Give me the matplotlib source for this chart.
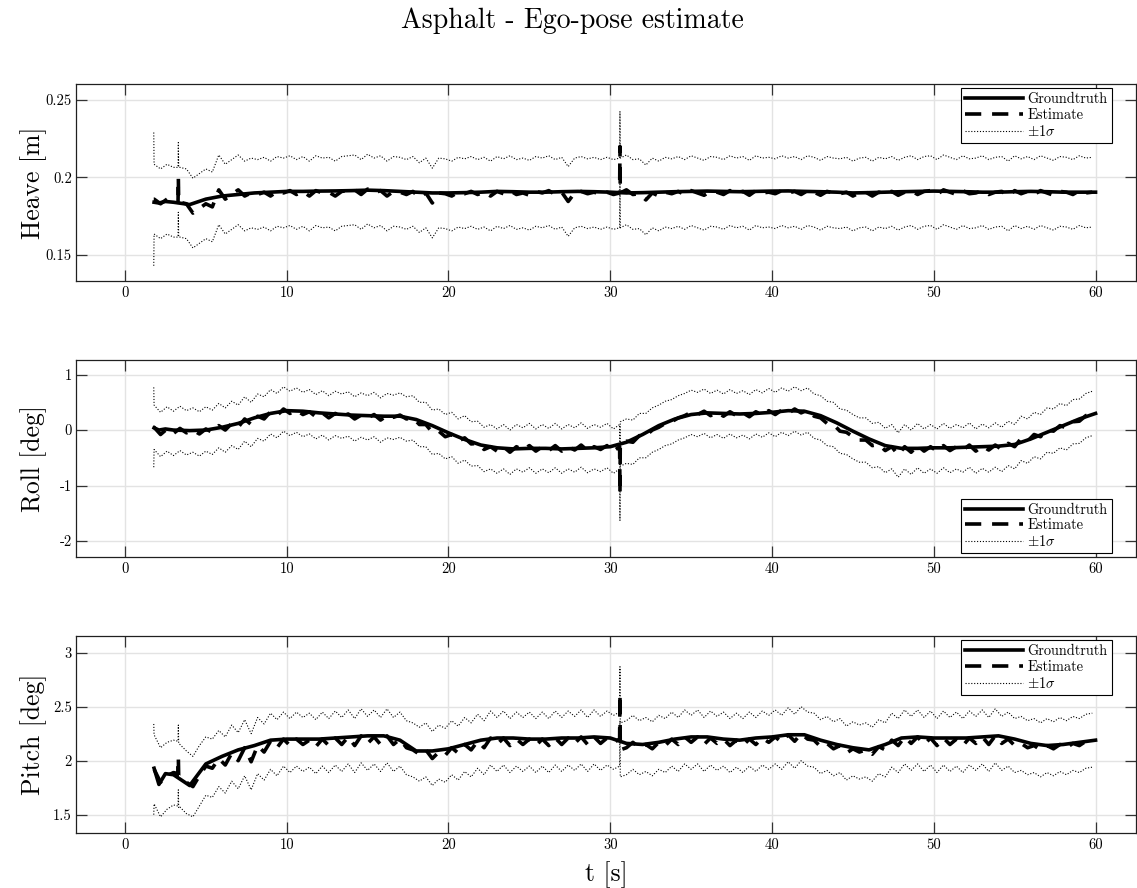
import numpy as np
import matplotlib
matplotlib.use('Agg')
from matplotlib import pyplot as plt

plt.rcParams['font.family'] = 'cmr10'
plt.rcParams['mathtext.fontset'] = 'cm'
plt.rcParams['axes.unicode_minus'] = False
plt.rcParams['axes.formatter.use_mathtext'] = True

# groundtruth samples
t_gt = [1.8, 2.1, 2.5] + list(range(3, 61))
heave_gt = [0.184, 0.1835, 0.1845, 0.184, 0.1825, 0.186, 0.188, 0.189, 0.190, 0.1905,
            0.191, 0.191, 0.1912, 0.1913, 0.1915, 0.1918, 0.1915, 0.191, 0.1905, 0.190,
            0.190, 0.1902, 0.1905, 0.191, 0.1908, 0.1905, 0.1905, 0.1908, 0.191, 0.1908,
            0.1905, 0.190, 0.1902, 0.1905, 0.1908, 0.191, 0.1912, 0.191, 0.1908, 0.191,
            0.1912, 0.1913, 0.191, 0.1908, 0.1905, 0.190, 0.1902, 0.1905, 0.1908, 0.191,
            0.1912, 0.191, 0.1908, 0.1905, 0.1905, 0.1908, 0.191, 0.1908, 0.1905, 0.1905,
            0.1905]
roll_gt = [0.04, 0.0, 0.02, 0.0, -0.01, 0.0, 0.05, 0.12, 0.22, 0.30,
           0.35, 0.34, 0.31, 0.29, 0.27, 0.26, 0.25, 0.25, 0.19, 0.08,
           -0.05, -0.17, -0.27, -0.32, -0.34, -0.33, -0.33, -0.34, -0.33, -0.32,
           -0.30, -0.22, -0.08, 0.08, 0.20, 0.28, 0.31, 0.30, 0.29, 0.30,
           0.32, 0.35, 0.34, 0.26, 0.13, -0.02, -0.16, -0.28, -0.33, -0.33,
           -0.32, -0.32, -0.31, -0.30, -0.29, -0.26, -0.16, -0.04, 0.08, 0.20,
           0.30]
pitch_gt = [1.93, 1.78, 1.88, 1.87, 1.77, 1.97, 2.04, 2.10, 2.14, 2.19,
            2.20, 2.20, 2.20, 2.21, 2.22, 2.23, 2.23, 2.19, 2.09, 2.09,
            2.11, 2.15, 2.19, 2.21, 2.21, 2.20, 2.20, 2.21, 2.21, 2.22,
            2.21, 2.16, 2.15, 2.17, 2.20, 2.22, 2.22, 2.20, 2.19, 2.21,
            2.22, 2.24, 2.24, 2.19, 2.15, 2.12, 2.10, 2.15, 2.21, 2.22,
            2.21, 2.21, 2.21, 2.22, 2.23, 2.20, 2.16, 2.14, 2.15, 2.17,
            2.19]

# estimate samples every 0.4 s from 1.8 s
t_est = np.arange(146) * 0.4 + 1.8
heave_est = [0.186, 0.183, 0.186, 0.184, 0.184, 0.183, 0.177, 0.180, 0.183, 0.181,
             0.192, 0.186, 0.189, 0.192, 0.188, 0.190, 0.189, 0.1905, 0.188, 0.191,
             0.190, 0.1915, 0.189, 0.191, 0.188, 0.1915, 0.190, 0.1905, 0.188, 0.191,
             0.1915, 0.192, 0.189, 0.1925, 0.190, 0.1915, 0.188, 0.191, 0.1905, 0.189,
             0.191, 0.187, 0.190, 0.1835, 0.190, 0.1895, 0.188, 0.1905, 0.1895, 0.191,
             0.189, 0.1905, 0.188, 0.191, 0.1895, 0.1915, 0.189, 0.190, 0.1885, 0.191,
             0.190, 0.1915, 0.189, 0.1905, 0.1845, 0.190, 0.191, 0.1895, 0.1905, 0.189,
             0.1905, 0.189, 0.220, 0.192, 0.189, 0.1895, 0.1855, 0.190, 0.188, 0.1905,
             0.1895, 0.191, 0.189, 0.1915, 0.190, 0.1885, 0.191, 0.1905, 0.189, 0.1915,
             0.190, 0.191, 0.1885, 0.1915, 0.190, 0.1905, 0.1895, 0.1915, 0.190, 0.191,
             0.189, 0.1915, 0.1905, 0.1885, 0.191, 0.190, 0.1895, 0.1905, 0.188, 0.190,
             0.1905, 0.188, 0.1905, 0.1895, 0.191, 0.1885, 0.1905, 0.1915, 0.189, 0.191,
             0.1915, 0.189, 0.192, 0.1905, 0.189, 0.1915, 0.1895, 0.190, 0.1915, 0.189,
             0.1905, 0.191, 0.188, 0.1915, 0.1895, 0.191, 0.189, 0.1915, 0.190, 0.1885,
             0.191, 0.1905, 0.189, 0.1915, 0.190, 0.1905]
roll_est = [0.05, -0.08, 0.02, -0.06, 0.03, -0.05, 0.0, -0.07, 0.02, -0.04,
            0.08, 0.0, 0.12, 0.05, 0.20, 0.10, 0.25, 0.20, 0.33, 0.26,
            0.38, 0.30, 0.36, 0.28, 0.33, 0.24, 0.31, 0.22, 0.30, 0.25,
            0.29, 0.20, 0.27, 0.22, 0.28, 0.18, 0.26, 0.23, 0.27, 0.20,
            0.22, 0.10, 0.10, -0.04, -0.02, -0.12, -0.08, -0.20, -0.14, -0.25,
            -0.24, -0.35, -0.30, -0.38, -0.30, -0.40, -0.30, -0.36, -0.28, -0.38,
            -0.30, -0.37, -0.28, -0.38, -0.30, -0.36, -0.27, -0.37, -0.30, -0.35,
            -0.28, -0.38, -1.15, -0.20, -0.22, -0.10, -0.10, 0.0, 0.05, 0.12,
            0.15, 0.22, 0.26, 0.32, 0.28, 0.34, 0.26, 0.32, 0.25, 0.33,
            0.26, 0.31, 0.24, 0.33, 0.27, 0.35, 0.28, 0.36, 0.30, 0.38,
            0.31, 0.36, 0.25, 0.22, 0.12, 0.10, -0.02, -0.04, -0.12, -0.18,
            -0.18, -0.28, -0.26, -0.37, -0.30, -0.45, -0.30, -0.40, -0.28, -0.38,
            -0.30, -0.38, -0.28, -0.37, -0.30, -0.36, -0.27, -0.38, -0.29, -0.36,
            -0.27, -0.35, -0.24, -0.30, -0.15, -0.20, -0.08, -0.12, 0.0, -0.02,
            0.08, 0.04, 0.15, 0.16, 0.26, 0.30]
pitch_est = [1.92, 1.80, 1.86, 1.89, 1.86, 1.80, 1.76, 1.86, 1.95, 1.93,
             2.02, 1.96, 2.07, 2.00, 2.12, 1.99, 2.14, 2.08, 2.18, 2.12,
             2.20, 2.14, 2.20, 2.15, 2.19, 2.13, 2.20, 2.14, 2.21, 2.15,
             2.22, 2.14, 2.23, 2.16, 2.22, 2.15, 2.23, 2.15, 2.20, 2.12,
             2.10, 2.06, 2.10, 2.02, 2.08, 2.05, 2.12, 2.07, 2.15, 2.10,
             2.18, 2.12, 2.21, 2.15, 2.21, 2.14, 2.20, 2.15, 2.20, 2.14,
             2.20, 2.14, 2.21, 2.15, 2.21, 2.16, 2.22, 2.15, 2.22, 2.16,
             2.21, 2.17, 2.62, 2.12, 2.17, 2.12, 2.15, 2.11, 2.17, 2.14,
             2.20, 2.15, 2.22, 2.17, 2.22, 2.15, 2.21, 2.16, 2.20, 2.14,
             2.19, 2.14, 2.20, 2.15, 2.21, 2.17, 2.22, 2.17, 2.24, 2.18,
             2.25, 2.20, 2.19, 2.13, 2.16, 2.11, 2.14, 2.07, 2.11, 2.08,
             2.10, 2.06, 2.13, 2.10, 2.19, 2.14, 2.22, 2.16, 2.22, 2.15,
             2.21, 2.14, 2.21, 2.15, 2.20, 2.14, 2.21, 2.16, 2.22, 2.15,
             2.23, 2.16, 2.20, 2.14, 2.16, 2.12, 2.14, 2.10, 2.14, 2.11,
             2.15, 2.12, 2.16, 2.14, 2.18, 2.19]

# 1 sigma of the estimate
heave_sig = [0.0225] * 146
roll_sig = [0.40] * 72 + [0.48] + [0.40] * 73
pitch_sig = [0.32, 0.32, 0.31, 0.30, 0.29, 0.29, 0.28, 0.28, 0.27, 0.27] + [0.26] * 10 + [0.25] * 126

# extra estimate samples around the short glitches (t, value, sigma)
heave_xt = [1.78, 3.28, 3.3, 3.32, 30.58, 30.62]
heave_xv = [0.186, 0.184, 0.200, 0.184, 0.190, 0.190]
heave_xs = [0.043, 0.0225, 0.0225, 0.0225, 0.0225, 0.0225]
roll_xt = [1.78, 30.58, 30.62]
roll_xv = [0.05, -0.30, -0.25]
roll_xs = [0.72, 0.40, 0.40]
pitch_xt = [1.78, 3.28, 3.3, 3.32, 30.58, 30.62]
pitch_xv = [1.92, 1.88, 2.03, 1.86, 2.20, 2.10]
pitch_xs = [0.42, 0.30, 0.30, 0.30, 0.25, 0.25]

panels = [
    ('Heave [m]', heave_gt, heave_est, heave_sig, heave_xt, heave_xv, heave_xs,
     (0.1332, 0.2603), [0.15, 0.2, 0.25], ['0.15', '0.2', '0.25'], 0.6836, 'upper right'),
    ('Roll [deg]', roll_gt, roll_est, roll_sig, roll_xt, roll_xv, roll_xs,
     (-2.29, 1.262), [-2, -1, 0, 1], ['-2', '-1', '0', '1'], 0.3727, 'lower right'),
    ('Pitch [deg]', pitch_gt, pitch_est, pitch_sig, pitch_xt, pitch_xv, pitch_xs,
     (1.33, 3.154), [1.5, 2, 2.5, 3], ['1.5', '2', '2.5', '3'], 0.0619, 'upper right'),
]

fig = plt.figure(figsize=(11.37, 8.88), dpi=100)
fig.text(0.503, 1 - 21 / 888, 'Asphalt - Ego-pose estimate', ha='center', va='center', fontsize=20)

for i, (name, gt, est, sig, xt, xv, xs, ylim, yt, ytl, bottom, loc) in enumerate(panels):
    ax = fig.add_axes([0.0668, bottom, 0.9323, 0.2218])
    tt = np.concatenate([t_est, xt])
    order = np.argsort(tt, kind='stable')
    tt = tt[order]
    ee = np.concatenate([est, xv])[order]
    ss = np.concatenate([sig, xs])[order]

    ax.plot(t_gt, gt, color='black', lw=2.6, label='Groundtruth')
    ax.plot(tt, ee, color='black', lw=2.6, dashes=(4.5, 3), label='Estimate')
    ax.plot(tt, ee + ss, color='black', lw=0.8, dashes=(1, 1.6), label=r'$\pm1\sigma$')
    ax.plot(tt, ee - ss, color='black', lw=0.8, dashes=(1, 1.6))

    ax.set_xlim(-3.03, 62.5)
    ax.set_ylim(*ylim)
    ax.set_xticks([0, 10, 20, 30, 40, 50, 60])
    ax.set_xticklabels(['0', '10', '20', '30', '40', '50', '60'])
    ax.set_yticks(yt)
    ax.set_yticklabels(ytl)
    ax.grid(True, color='#e3e3e3', lw=1.0)
    ax.set_axisbelow(True)
    ax.tick_params(direction='in', top=True, right=True, length=8, width=0.9,
                   color='#333333', labelsize=10.5)
    ax.tick_params(axis='y', pad=3)
    ax.tick_params(axis='x', pad=4)
    for s in ax.spines.values():
        s.set_color('#202020')
        s.set_linewidth(0.9)

    ax.set_ylabel(name, fontsize=18.5)
    ax.yaxis.set_label_coords(-0.027, 0.5)

    if loc == 'upper right':
        anchor = (0.977, 0.978)
    else:
        anchor = (0.977, 0.02)
    leg = ax.legend(loc=loc, bbox_to_anchor=anchor, fontsize=10.4, fancybox=False,
                    edgecolor='black', framealpha=1, borderaxespad=0, borderpad=0.3,
                    labelspacing=0.12, handlelength=4.0, handletextpad=0.3)
    leg.get_frame().set_linewidth(0.8)

    if i == 2:
        ax.set_xlabel('t [s]', fontsize=18.5)
        ax.xaxis.set_label_coords(0.5, -0.145)

fig.savefig('out.png', dpi=100)
